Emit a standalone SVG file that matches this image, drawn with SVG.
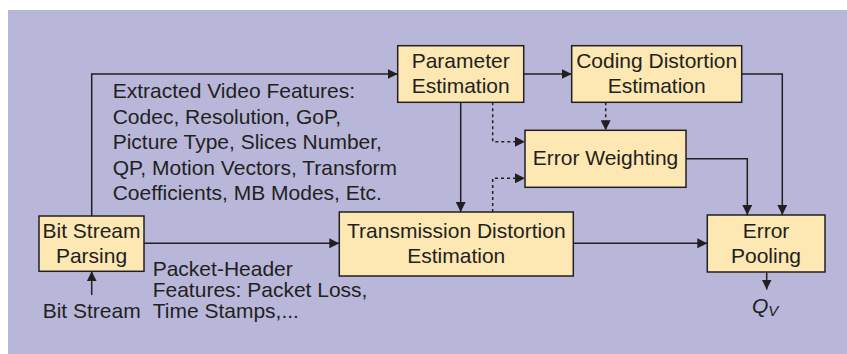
<svg xmlns="http://www.w3.org/2000/svg" width="847" height="354" viewBox="0 0 847 354">
<defs>
<marker id="ah" viewBox="0 0 10 10" refX="10" refY="5" markerWidth="10" markerHeight="10" markerUnits="userSpaceOnUse" orient="auto">
<path d="M0,0 L10,5 L0,10 Z" fill="#231f20"/>
</marker>
</defs>
<style>
.box{fill:#fde7b3;stroke:#231f20;stroke-width:1.5}
.t{font-family:"Liberation Sans",Arial,sans-serif;font-size:21px;fill:#231f20}
.c{text-anchor:middle}
.ln{fill:none;stroke:#231f20;stroke-width:1.5}
.dt{fill:none;stroke:#231f20;stroke-width:1.5;stroke-dasharray:3,3}
</style>
<rect x="8" y="10" width="839" height="344" fill="#b8b7da"/>
<g id="connectors">
<path class="ln" d="M91.7,216 V74 H397.7" marker-end="url(#ah)"/>
<path class="ln" d="M523.7,74 H571.7" marker-end="url(#ah)"/>
<path class="ln" d="M741.7,74 H782.3 V215" marker-end="url(#ah)"/>
<path class="ln" d="M686,158.7 H747.3 V215" marker-end="url(#ah)"/>
<path class="ln" d="M460.7,102.3 V212" marker-end="url(#ah)"/>
<path class="dt" d="M492.7,102.3 V141.7 H525" marker-end="url(#ah)"/>
<path class="dt" d="M492.7,212 V178.3 H525" marker-end="url(#ah)"/>
<path class="dt" d="M605.7,102.3 V130.3" marker-end="url(#ah)"/>
<path class="ln" d="M144,243.3 H339.3" marker-end="url(#ah)"/>
<path class="ln" d="M573.3,243.3 H707.3" marker-end="url(#ah)"/>
<path class="ln" d="M766.7,272 V289.5" marker-end="url(#ah)"/>
<path class="ln" d="M91.7,295 V271.3" marker-end="url(#ah)"/>
</g>
<g id="param">
<rect class="box" x="397.7" y="45.7" width="126" height="56.6"/>
<text class="t c" x="460.7" y="68.3">Parameter</text>
<text class="t c" x="460.7" y="93.3">Estimation</text>
</g>
<g id="coding">
<rect class="box" x="571.7" y="45.7" width="170" height="56.6"/>
<text class="t c" x="656.7" y="68.3">Coding Distortion</text>
<text class="t c" x="656.7" y="93.3">Estimation</text>
</g>
<g id="weighting">
<rect class="box" x="525" y="130.3" width="161" height="57"/>
<text class="t c" x="605.5" y="165.3">Error Weighting</text>
</g>
<g id="parsing">
<rect class="box" x="39" y="216" width="105" height="55.3"/>
<text class="t c" x="91.5" y="237.7">Bit Stream</text>
<text class="t c" x="91.5" y="263.3">Parsing</text>
</g>
<g id="transmission">
<rect class="box" x="339.3" y="212" width="234" height="64"/>
<text class="t c" x="456.3" y="237.7">Transmission Distortion</text>
<text class="t c" x="456.3" y="263.3">Estimation</text>
</g>
<g id="pooling">
<rect class="box" x="707.3" y="215" width="117.7" height="57"/>
<text class="t c" x="766" y="238">Error</text>
<text class="t c" x="766" y="263.3">Pooling</text>
</g>
<g id="labels">
<text class="t" x="112.7" y="98.3">Extracted Video Features:</text>
<text class="t" x="112.7" y="124">Codec, Resolution, GoP,</text>
<text class="t" x="112.7" y="149.3">Picture Type, Slices Number,</text>
<text class="t" x="112.7" y="175">QP, Motion Vectors, Transform</text>
<text class="t" x="112.7" y="200">Coefficients, MB Modes, Etc.</text>
<text class="t" x="152.7" y="275.5">Packet-Header</text>
<text class="t" x="152.7" y="296.5">Features: Packet Loss,</text>
<text class="t" x="152.7" y="317.7">Time Stamps,...</text>
<text class="t" x="42.7" y="317.7">Bit Stream</text>
<text class="t" x="752" y="312.7" font-style="italic">Q<tspan font-size="15px" dy="3.5">V</tspan></text>
</g>
</svg>
